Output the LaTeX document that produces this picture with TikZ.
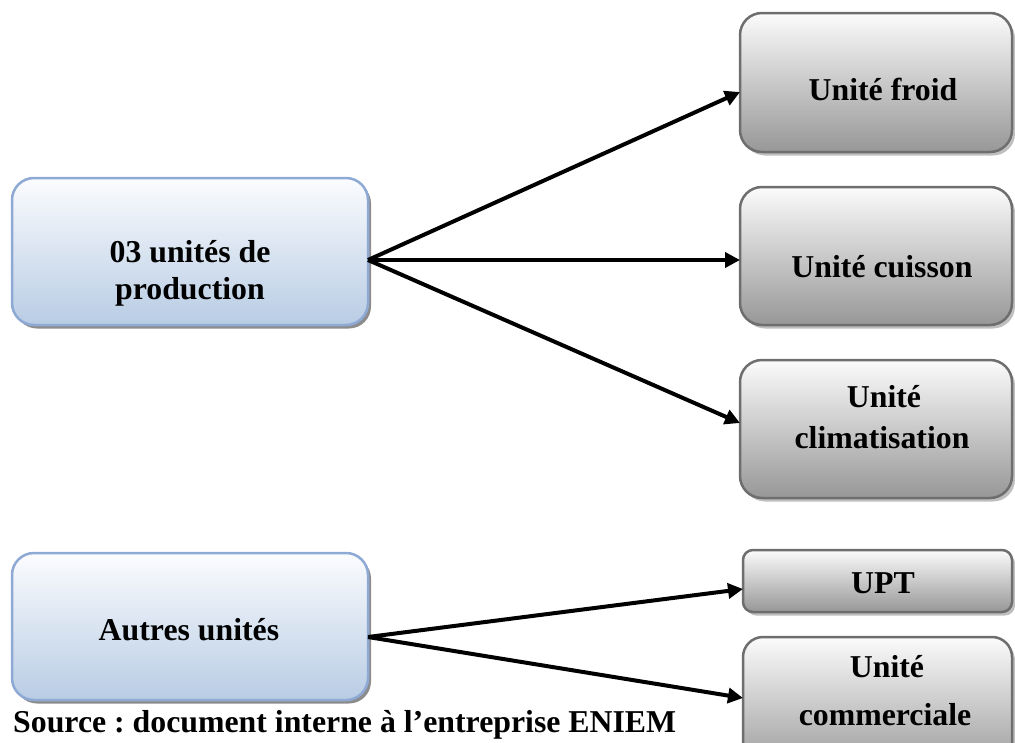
\documentclass[tikz,border=0pt]{standalone}
\usepackage{fontspec}
\setmainfont{Liberation Serif}
\usetikzlibrary{arrows.meta,shadows,calc}
\frenchspacing

\definecolor{blueedge}{HTML}{8EAAD4}
\definecolor{bluelow}{HTML}{B8CCE4}
\definecolor{bluetop}{HTML}{FBFCFE}
\definecolor{grayedge}{HTML}{6E6E6E}
\definecolor{graylow}{HTML}{979797}
\definecolor{graytop}{HTML}{FBFBFB}

\tikzset{
  box/.style={draw, line width=2.5pt, inner sep=0pt, outer sep=0pt, rounded corners=22pt},
  bluebox/.style={box, draw=blueedge, top color=bluetop, bottom color=bluelow,
    minimum width=356pt, minimum height=147pt,
    drop shadow={shadow xshift=3pt, shadow yshift=-3.5pt, opacity=0.45, fill=black}},
  graybox/.style={box, draw=grayedge, top color=graytop, bottom color=graylow,
    minimum width=272pt,
    drop shadow={shadow xshift=3pt, shadow yshift=-3.5pt, opacity=0.25, fill=black}},
  lbl/.style={anchor=base, inner sep=0pt, font=\fontsize{31.8}{36}\selectfont\bfseries},
  link/.style={line width=4pt, -{Triangle[length=15pt,width=15pt]}},
}

\begin{document}
\begin{tikzpicture}[x=1pt,y=-1pt]
\clip (0,0) rectangle (1015,742);

% source boxes
\node[bluebox] (prod) at (190,251.5) {};
\node[bluebox] (autres) at (190,626.5) {};

% target boxes
\node[graybox, minimum height=139pt] (froid) at (876,82.5) {};
\node[graybox, minimum height=138pt] (cuisson) at (876,256) {};
\node[graybox, minimum height=138pt] (clim) at (876,429) {};
\node[graybox, minimum width=269pt, minimum height=62pt, rounded corners=10pt] (upt) at (877.5,581) {};
\node[graybox, minimum width=269pt, minimum height=138pt, rounded corners=20pt] (comm) at (877.5,706) {};

% labels
\node[lbl] (prodA) at (190,262) {03 unités de};
\node[lbl] (prodB) at (190,299) {production};
\node[lbl] (autresT) at (189,640) {Autres unités};
\node[lbl] (froidT) at (883,100) {Unité froid};
\node[lbl] (cuissonT) at (882,277) {Unité cuisson};
\node[lbl] (climA) at (884,407) {Unité};
\node[lbl] (climB) at (882,448) {climatisation};
\node[lbl] (uptT) at (883,593) {UPT};
\node[lbl] (commA) at (887,677) {Unité};
\node[lbl] (commB) at (885,725) {commerciale};
\node[lbl, anchor=base west] (source) at (13,732) {Source : document interne à l’entreprise ENIEM};

% connectors
\coordinate (ps) at ($(prod.east)+(0,8.5)$);
\coordinate (as) at ($(autres.east)+(0,10.5)$);
\draw[link] (ps) -- ($(froid.west)+(0,9.5)$);
\draw[link] (ps) -- ($(cuisson.west)+(0,4)$);
\draw[link] (ps) -- ($(clim.west)+(0,-6)$);
\draw[link] (as) -- ($(upt.west)+(0,8)$);
\draw[link] (as) -- ($(comm.west)+(0,-8)$);
\end{tikzpicture}
\end{document}
